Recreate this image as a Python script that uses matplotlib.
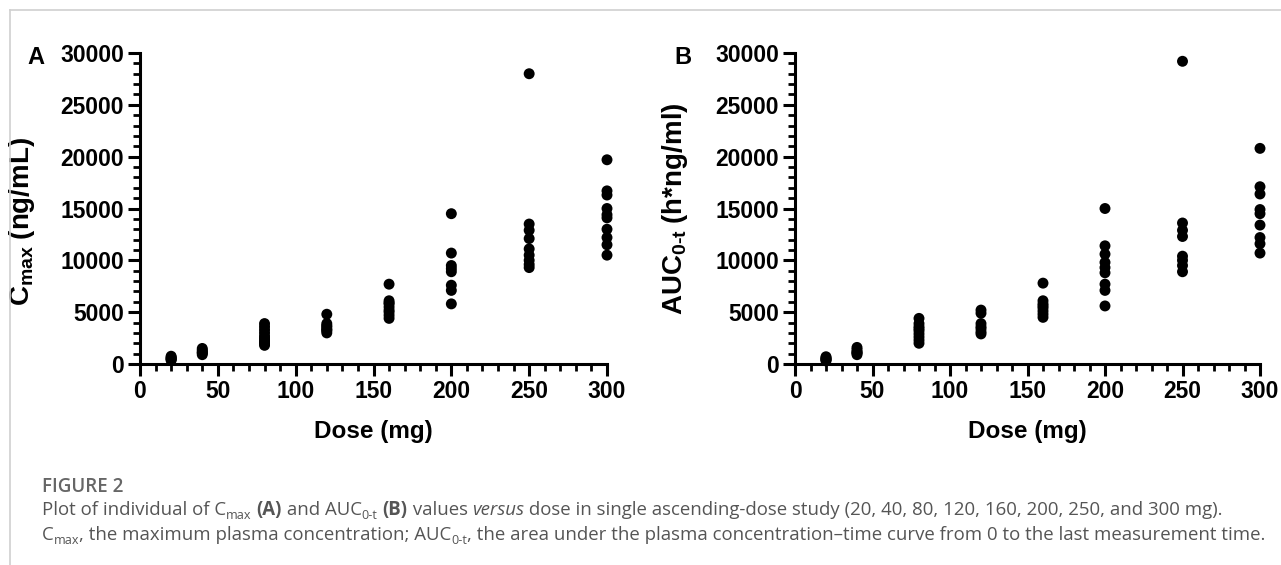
#!/usr/bin/env python3
"""Cmax and AUC0-t versus dose, single ascending-dose study (two scatter panels + caption)."""

import matplotlib
matplotlib.use("Agg")
import matplotlib.pyplot as plt
from matplotlib.lines import Line2D
from matplotlib.ticker import MultipleLocator

# Dose groups (mg)
doses = [20, 40, 80, 120, 160, 200, 250, 300]

# Cmax (ng/mL), read per dose group
cmax_20 = [350, 450, 550, 650, 750, 500]
cmax_40 = [900, 1050, 1200, 1350, 1500, 1100]
cmax_80 = [1800, 2000, 2100, 2300, 2500, 2700, 3000, 3300, 3600, 3900]
cmax_120 = [4800, 3900, 3700, 3600, 3400, 3300, 3200, 3000]
cmax_160 = [7700, 6100, 5900, 5800, 5500, 5200, 5000, 4700, 4400]
cmax_200 = [14500, 10700, 9500, 9200, 8900, 7600, 7100, 5800]
cmax_250 = [28000, 13500, 12900, 12100, 11100, 10500, 10000, 9600, 9300]
cmax_300 = [19700, 16700, 16300, 15000, 14400, 14100, 13000, 12200, 11500, 10500]

# AUC0-t (h*ng/ml), read per dose group
auc_20 = [300, 400, 450, 500, 600, 700]
auc_40 = [900, 1050, 1100, 1200, 1400, 1600]
auc_80 = [4400, 3900, 3600, 3400, 3200, 2900, 2600, 2300, 2000]
auc_120 = [5200, 4900, 3900, 3600, 3400, 3100, 2900]
auc_160 = [7800, 6100, 5800, 5600, 5400, 5100, 4800, 4500]
auc_200 = [15000, 11400, 10600, 9800, 9300, 8800, 7700, 7100, 5600]
auc_250 = [29200, 13600, 12900, 12300, 10400, 10000, 9500, 8900]
auc_300 = [20800, 17100, 16400, 14900, 14500, 13400, 12200, 11600, 10700]

cmax_groups = [cmax_20, cmax_40, cmax_80, cmax_120, cmax_160, cmax_200, cmax_250, cmax_300]
auc_groups = [auc_20, auc_40, auc_80, auc_120, auc_160, auc_200, auc_250, auc_300]

W, H, DPI = 1281, 565, 100

plt.rcParams['font.family'] = ['Liberation Sans', 'DejaVu Sans']
plt.rcParams['font.weight'] = 'bold'
plt.rcParams['mathtext.fontset'] = 'custom'
plt.rcParams['mathtext.rm'] = 'Liberation Sans:bold'
plt.rcParams['mathtext.bf'] = 'Liberation Sans:bold'
plt.rcParams['mathtext.it'] = 'Liberation Sans:bold'

fig = plt.figure(figsize=(W / DPI, H / DPI), dpi=DPI)
fig.patch.set_facecolor('white')


def px_box(left, top, right, bottom):
    # pixel box (from top-left) -> figure fraction rect
    return [left / W, 1 - bottom / H, (right - left) / W, (bottom - top) / H]


def scatter_panel(rect, groups, ylabel, letter, ylab_xy, letter_x):
    ax = fig.add_axes(rect)
    for d, vals in zip(doses, groups):
        ax.scatter([d] * len(vals), vals, s=62, color='black', edgecolors='none',
                   zorder=3, clip_on=False)
    ax.set_xlim(0, 300)
    ax.set_ylim(0, 30000)
    ax.xaxis.set_major_locator(MultipleLocator(50))
    ax.xaxis.set_minor_locator(MultipleLocator(10))
    ax.yaxis.set_major_locator(MultipleLocator(5000))
    ax.yaxis.set_minor_locator(MultipleLocator(1000))
    for side in ['top', 'right']:
        ax.spines[side].set_visible(False)
    for side in ['left', 'bottom']:
        ax.spines[side].set_linewidth(2.2)
        ax.spines[side].set_capstyle('projecting')
    ax.tick_params(which='major', direction='out', length=8.5, width=2.2,
                   labelsize=16.5, pad=3)
    ax.tick_params(which='minor', direction='out', length=5, width=2.0)
    ax.set_xlabel('Dose (mg)', fontsize=17.5, fontweight='bold')
    ax.xaxis.set_label_coords(0.5, -0.18)
    ax.set_ylabel(ylabel, fontsize=20, fontweight='bold')
    ax.yaxis.set_label_coords(*ylab_xy)
    fig.text(letter_x / W, 1 - 57 / H, letter, fontsize=17, fontweight='bold',
             ha='center', va='center')
    return ax


scatter_panel(px_box(140, 53, 607, 364), cmax_groups,
              r'C$_{\mathbf{max}}\;$(ng/mL)', 'A', (-0.22, 0.46), 36)
scatter_panel(px_box(795, 53, 1260, 364), auc_groups,
              r'AUC$_{\mathbf{0\text{-}t}}\;$(h*ng/ml)', 'B', (-0.225, 0.50), 683)

# light frame (top and left) like the journal page crop
fig.add_artist(Line2D([10 / W, 1], [1 - 10 / H, 1 - 10 / H], color='#d0d0d0', lw=1.2))
fig.add_artist(Line2D([10 / W, 10 / W], [0, 1 - 10 / H], color='#d0d0d0', lw=1.2))

# ---- caption, drawn piece by piece so mixed styles line up ----
cap_font = ['Open Sans', 'DejaVu Sans']
cap_color = '#555555'
cap_size = 13.4
fig.canvas.draw()
renderer = fig.canvas.get_renderer()


def piece_width(txt, **kw):
    t1 = fig.text(0, 0, 'x' + txt + 'x', **kw)
    t2 = fig.text(0, 0, 'xx', **kw)
    w = t1.get_window_extent(renderer).width - t2.get_window_extent(renderer).width
    t1.remove()
    t2.remove()
    return w


def draw_line(x0, baseline, pieces):
    x = x0
    for txt, style in pieces:
        kw = dict(family=cap_font, color=cap_color, fontsize=cap_size, fontweight='normal')
        dy = 0
        if style == 'b':
            kw['fontweight'] = 'bold'
        elif style == 'i':
            kw['fontstyle'] = 'italic'
        elif style == 'sub':
            kw['fontsize'] = cap_size * 0.68
            dy = 4
        fig.text(x / W, 1 - (baseline + dy) / H, txt, va='baseline', ha='left', **kw)
        x += piece_width(txt, **kw)


fig.text(42 / W, 1 - 492 / H, 'FIGURE 2', family=cap_font, color='#666666',
         fontsize=13.5, fontweight='semibold', va='baseline', ha='left')

draw_line(42, 515, [
    ('Plot of individual of C', 'n'), ('max', 'sub'), (' ', 'n'), ('(A)', 'b'),
    (' and AUC', 'n'), ('0-t', 'sub'), (' ', 'n'), ('(B)', 'b'), (' values ', 'n'),
    ('versus', 'i'),
    (' dose in single ascending-dose study (20, 40, 80, 120, 160, 200, 250, and 300 mg).', 'n'),
])
draw_line(42, 540, [
    ('C', 'n'), ('max', 'sub'),
    (', the maximum plasma concentration; AUC', 'n'), ('0-t', 'sub'),
    (', the area under the plasma concentration\u2013time curve from 0 to the last measurement time.', 'n'),
])

fig.savefig('out.png', dpi=DPI, facecolor='white')
